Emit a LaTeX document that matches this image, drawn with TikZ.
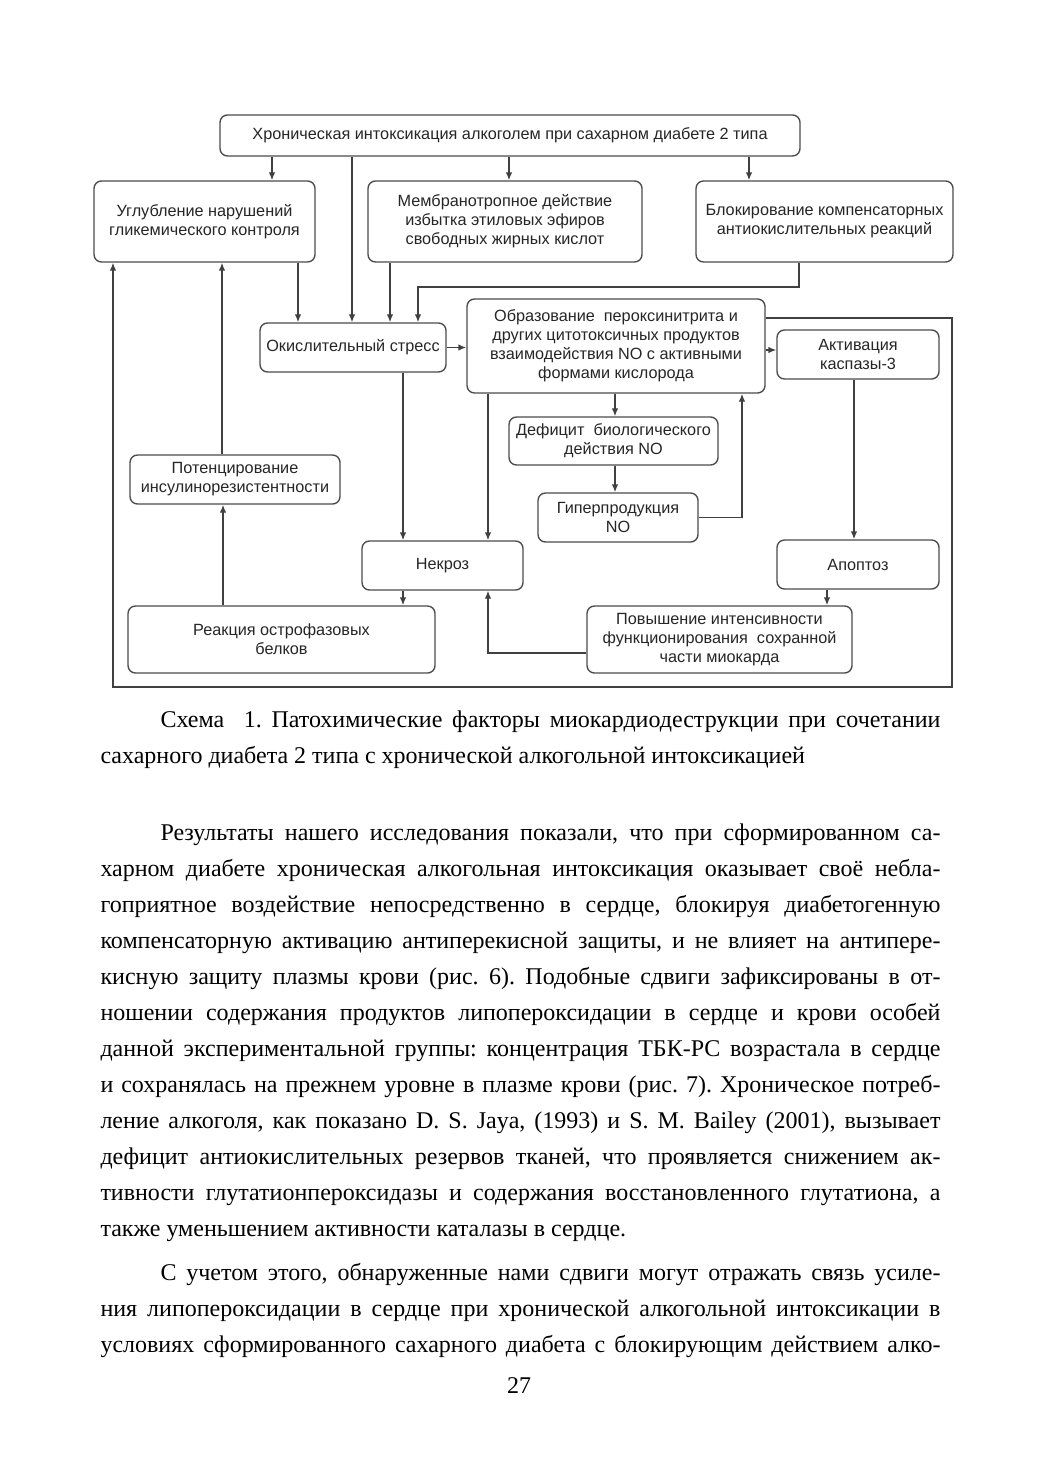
\documentclass[tikz,border=0pt]{standalone}
\usepackage{fontspec}
\setmainfont{Liberation Serif}
\newfontfamily\diagfont{Liberation Sans}
\usetikzlibrary{arrows.meta}
\tikzset{
  box/.style={draw=black!70, line width=0.55pt, rounded corners=3pt, inner sep=0pt, align=center,
    font=\diagfont\fontsize{6.5}{7.6}\selectfont, text=black!85},
  arr/.style={draw=black!75, line width=0.55pt, -{Latex[length=3.2pt,width=2.6pt]}},
  ln/.style={draw=black!75, line width=0.55pt},
  txt/.style={anchor=base west, inner sep=0pt, font=\fontsize{9.6}{11.5}\selectfont},
}
\newcommand{\fullline}[1]{\makebox[336pt][s]{#1}}
\newcommand{\indline}[1]{\makebox[312pt][s]{#1}}
\frenchspacing

\begin{document}
\begin{tikzpicture}[x=0.4pt,y=-0.4pt]
  \fill[white] (0,0) rectangle (1039,1471);
  \useasboundingbox (0,0) rectangle (1039,1471);

  % boxes of the scheme
  \node[box, minimum width=232pt, minimum height=16.4pt] (chron) at (510,135.5)
    {Хроническая интоксикация алкоголем при сахарном диабете 2 типа};
  \node[box, minimum width=88.4pt, minimum height=32.4pt] (glyc) at (204.5,221.5)
    {Углубление нарушений\\гликемического контроля};
  \node[box, minimum width=109.6pt, minimum height=32.4pt] (membr) at (505,221.5)
    {Мембранотропное действие\\избытка этиловых эфиров\\свободных жирных кислот};
  \node[box, minimum width=102.8pt, minimum height=32.4pt] (block) at (824.5,221.5)
    {Блокирование компенсаторных\\антиокислительных реакций};
  \node[box, minimum width=74.4pt, minimum height=19.6pt] (oxstress) at (353,347.5)
    {Окислительный стресс};
  \node[box, minimum width=119.2pt, minimum height=37.6pt] (peroxy) at (616,346)
    {Образование\ \ пероксинитрита и\\других цитотоксичных продуктов\\взаимодействия NO с активными\\формами кислорода};
  \node[box, minimum width=64.8pt, minimum height=19.6pt] (casp) at (858,354.5)
    {Активация\\каспазы-3};
  \node[box, minimum width=83.6pt, minimum height=19.2pt] (nodef) at (613.5,441)
    {Дефицит\ \ биологического\\действия NO};
  \node[box, minimum width=64pt, minimum height=19.6pt] (nohyper) at (618,517.5)
    {Гиперпродукция\\NO};
  \node[box, minimum width=84pt, minimum height=19.6pt] (insres) at (235,479.5)
    {Потенцирование\\инсулинорезистентности};
  \node[box, minimum width=64.4pt, minimum height=19.6pt] (necr) at (442.5,565.5)
    {Некроз};
  \node[box, minimum width=64.8pt, minimum height=19.6pt] (apopt) at (858,564.5)
    {Апоптоз};
  \node[box, minimum width=122.8pt, minimum height=26.8pt] (acute) at (281.5,639.5)
    {Реакция острофазовых\\белков};
  \node[box, minimum width=106pt, minimum height=26.8pt] (myoc) at (719.5,639.5)
    {Повышение интенсивности\\функционирования\ \ сохранной\\части миокарда};

  % connectors
  \coordinate (blockturn) at (418,287);
  \draw[arr] (chron.south -| 272,0) -- (glyc.north -| 272,0);
  \draw[arr] (chron.south -| 509,0) -- (membr.north -| 509,0);
  \draw[arr] (chron.south -| 749,0) -- (block.north -| 749,0);
  \draw[arr] (chron.south -| 352,0) -- (oxstress.north -| 352,0);
  \draw[arr] (glyc.south -| 298,0) -- (oxstress.north -| 298,0);
  \draw[arr] (membr.south -| 390,0) -- (oxstress.north -| 390,0);
  \draw[arr] (block.south -| 799,0) |- (blockturn) -- (oxstress.north -| blockturn);
  \draw[arr] (oxstress.east) -- (peroxy.west |- oxstress.east);
  \draw[arr] (peroxy.east |- 0,350) -- (casp.west |- 0,350);
  \draw[arr] (peroxy.south -| 615,0) -- (nodef.north -| 615,0);
  \draw[arr] (nodef.south -| 615,0) -- (nohyper.north -| 615,0);
  \draw[arr] (nohyper.east) -| (peroxy.south -| 742,0);
  \draw[arr] (peroxy.south -| 488,0) -- (necr.north -| 488,0);
  \draw[arr] (oxstress.south -| 403,0) -- (necr.north -| 403,0);
  \draw[arr] (casp.south -| 854,0) -- (apopt.north -| 854,0);
  \draw[arr] (necr.south -| 403,0) -- (acute.north -| 403,0);
  \draw[arr] (acute.north -| 223,0) -- (insres.south -| 223,0);
  \draw[arr] (insres.north -| 222,0) -- (glyc.south -| 222,0);
  \draw[arr] (apopt.south -| 827,0) -- (myoc.north -| 827,0);
  \draw[arr] (myoc.west |- 0,653) -| (necr.south -| 488,0);
  \draw[arr] (peroxy.east |- 0,318) -| (952,687) -| (glyc.south -| 113,0);

  % caption
  \node[txt] (cap1) at (160,727) {\indline{Схема\ \ 1. Патохимические факторы миокардиодеструкции при сочетании}};
  \node[txt] (cap2) at (100,763) {сахарного диабета 2 типа с хронической алкогольной интоксикацией};

  % body text
  \node[txt] (a1) at (160,840) {\indline{Результаты нашего исследования показали, что при сформированном са-}};
  \node[txt] (a2) at (100,876) {\fullline{харном диабете хроническая алкогольная интоксикация оказывает своё небла-}};
  \node[txt] (a3) at (100,912) {\fullline{гоприятное воздействие непосредственно в сердце, блокируя диабетогенную}};
  \node[txt] (a4) at (100,948) {\fullline{компенсаторную активацию антиперекисной защиты, и не влияет на антипере-}};
  \node[txt] (a5) at (100,984) {\fullline{кисную защиту плазмы крови (рис. 6). Подобные сдвиги зафиксированы в от-}};
  \node[txt] (a6) at (100,1020) {\fullline{ношении содержания продуктов липопероксидации в сердце и крови особей}};
  \node[txt] (a7) at (100,1056) {\fullline{данной экспериментальной группы: концентрация ТБК-РС возрастала в сердце}};
  \node[txt] (a8) at (100,1092) {\fullline{и сохранялась на прежнем уровне в плазме крови (рис. 7). Хроническое потреб-}};
  \node[txt] (a9) at (100,1128) {\fullline{ление алкоголя, как показано D. S. Jaya, (1993) и S. M. Bailey (2001), вызывает}};
  \node[txt] (a10) at (100,1164) {\fullline{дефицит антиокислительных резервов тканей, что проявляется снижением ак-}};
  \node[txt] (a11) at (100,1200) {\fullline{тивности глутатионпероксидазы и содержания восстановленного глутатиона, а}};
  \node[txt] (a12) at (100,1236) {также уменьшением активности каталазы в сердце.};
  \node[txt] (b1) at (160,1280) {\indline{С учетом этого, обнаруженные нами сдвиги могут отражать связь усиле-}};
  \node[txt] (b2) at (100,1316) {\fullline{ния липопероксидации в сердце при хронической алкогольной интоксикации в}};
  \node[txt] (b3) at (100,1352) {\fullline{условиях сформированного сахарного диабета с блокирующим действием алко-}};

  % page number
  \node[txt, anchor=base] (pagenum) at (519,1393) {27};
\end{tikzpicture}
\end{document}
